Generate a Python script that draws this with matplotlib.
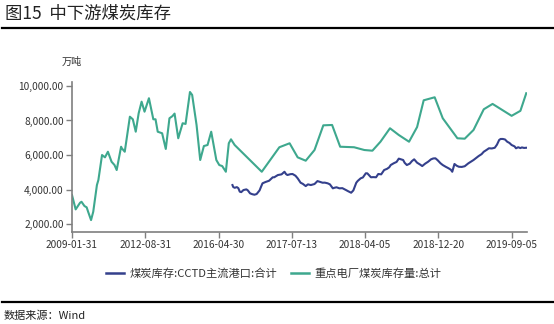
import matplotlib
matplotlib.use("Agg")
import matplotlib.pyplot as plt
from matplotlib.lines import Line2D

plt.rcParams['font.family'] = ['Noto Sans CJK SC', 'DejaVu Sans']

# category axis: tick labels sit at evenly spaced positions (100 units apart)
tick_pos = [0, 100, 200, 300, 400, 500, 600]
tick_labels = ["2009-01-31", "2012-08-31", "2016-04-30", "2017-07-13",
               "2018-04-05", "2018-12-20", "2019-09-05"]

# 重点电厂煤炭库存量:总计 (万吨)
plant_x = [0, 5, 11, 13, 17, 20, 22, 26, 29, 34, 36, 41, 45, 49, 54, 58, 61,
           67, 68, 72, 79, 83, 87, 91, 95, 99, 105, 111, 114, 117, 123, 128,
           133, 137, 140, 145, 151, 155, 161, 164, 170, 175, 180, 185, 190,
           197, 201, 205, 210, 214, 217, 222, 259, 283, 297, 308, 319, 331,
           343, 355, 366, 385, 399, 410, 421, 434, 446, 460, 471, 480, 495,
           506, 526, 536, 548, 562, 574, 600, 612, 620]
plant_v = [3680, 2850, 3235, 3290, 3045, 2970, 2715, 2230, 2715, 4260, 4550,
           6000, 5865, 6190, 5610, 5420, 5130, 6480, 6390, 6190, 8220, 8070,
           7350, 8420, 9090, 8510, 9290, 8070, 8070, 7350, 7260, 6350, 8130,
           8250, 8400, 6970, 7840, 7800, 9650, 9480, 7740, 5710, 6520, 6580,
           7350, 5710, 5420, 5360, 5030, 6680, 6910, 6580, 5030, 6450, 6680,
           5865, 5670, 6290, 7720, 7740, 6480, 6450, 6290, 6250, 6770, 7550,
           7160, 6770, 7620, 9170, 9345, 8130, 6970, 6945, 7450, 8650, 8960,
           8270, 8560, 9580]

# 煤炭库存:CCTD主流港口:合计 (万吨)
port_x = [219, 220, 222, 225, 227, 229, 231, 234, 238, 240, 243, 246, 249,
          252, 256, 258, 260, 264, 267, 269, 274, 276, 281, 286, 290, 292,
          294, 298, 301, 305, 308, 312, 315, 319, 322, 326, 331, 335, 338,
          342, 345, 349, 352, 356, 358, 361, 365, 369, 374, 377, 381, 384,
          388, 390, 394, 397, 401, 403, 405, 408, 411, 415, 418, 422, 426,
          430, 433, 435, 439, 443, 446, 449, 452, 454, 457, 461, 464, 467,
          471, 475, 478, 482, 486, 490, 493, 496, 499, 503, 506, 510, 514,
          517, 519, 522, 525, 528, 532, 536, 541, 548, 555, 559, 562, 566,
          569, 573, 577, 580, 583, 585, 588, 591, 594, 597, 600, 604, 606,
          609, 612, 614, 617, 620]
port_v = [4260, 4150, 4100, 4140, 4080, 3875, 3850, 3970, 4010, 3950, 3780,
          3730, 3700, 3740, 3950, 4160, 4360, 4435, 4480, 4510, 4710, 4710,
          4840, 4880, 5030, 4900, 4840, 4890, 4900, 4800, 4650, 4395, 4330,
          4200, 4300, 4260, 4320, 4490, 4450, 4395, 4400, 4360, 4300, 4070,
          4100, 4130, 4070, 4080, 3970, 3900, 3815, 3950, 4395, 4500, 4650,
          4700, 4940, 4940, 4850, 4710, 4720, 4710, 4900, 4880, 5130, 5200,
          5290, 5420, 5520, 5600, 5790, 5750, 5710, 5550, 5420, 5500, 5650,
          5750, 5555, 5450, 5360, 5500, 5610, 5750, 5800, 5810, 5700, 5520,
          5420, 5320, 5230, 5150, 5030, 5480, 5380, 5320, 5310, 5350, 5520,
          5710, 5940, 6050, 6190, 6300, 6390, 6380, 6420, 6600, 6870, 6930,
          6930, 6900, 6770, 6700, 6580, 6500, 6390, 6450, 6400, 6440, 6410,
          6420]

series_names = ["煤炭库存:CCTD主流港口:合计", "重点电厂煤炭库存量:总计"]
port_color = "#34408C"
plant_color = "#3EA88E"

W, H = 554, 324
fig = plt.figure(figsize=(W / 100, H / 100), dpi=100)

ax = fig.add_axes([72 / W, 1 - 232 / H, (527 - 72) / W, (232 - 82) / H])
ax.plot(plant_x, plant_v, color=plant_color, lw=1.5, solid_joinstyle="round")
ax.plot(port_x, port_v, color=port_color, lw=1.5, solid_joinstyle="round")

ax.set_xlim(0, 621)
ax.set_ylim(1540, 10230)
ax.set_xticks(tick_pos)
ax.set_xticklabels(tick_labels)
ax.set_yticks([2000, 4000, 6000, 8000, 10000])
ax.yaxis.set_major_formatter(matplotlib.ticker.FuncFormatter(lambda v, p: f"{v:,.2f}"))

for side in ("top", "right"):
    ax.spines[side].set_visible(False)
for side in ("left", "bottom"):
    ax.spines[side].set_color("#7f7f7f")
    ax.spines[side].set_linewidth(1.2)
ax.tick_params(axis="both", direction="out", length=4, width=1, color="#7f7f7f",
               labelsize=7.3, labelcolor="#333333", pad=2)

fig.text(72 / W, 1 - 62 / H, "万吨", ha="center", va="center", fontsize=7.3,
         color="#333333")

handles = [Line2D([], [], color=port_color, lw=1.8),
           Line2D([], [], color=plant_color, lw=1.8)]
fig.legend(handles, series_names, loc="center", bbox_to_anchor=(274 / W, 1 - 274 / H),
           ncol=2, frameon=False, fontsize=8.1, handlelength=1.6,
           handletextpad=0.5, columnspacing=1.2, labelcolor="#333333")

# header and footer
fig.text(5 / W, 1 - 14 / H, "图15  中下游煤炭库存", ha="left", va="center",
         fontsize=12.5, style="italic", color="#222222")
fig.add_artist(Line2D([2 / W, 1.0], [1 - 28 / H, 1 - 28 / H], color="black", lw=1.6))
fig.add_artist(Line2D([2 / W, 1.0], [1 - 302 / H, 1 - 302 / H], color="black", lw=1.6))
fig.text(4 / W, 1 - 316 / H, "数据来源：Wind", ha="left", va="center",
         fontsize=8, style="italic", color="#222222")

fig.savefig("out.png", dpi=100, facecolor="white")
